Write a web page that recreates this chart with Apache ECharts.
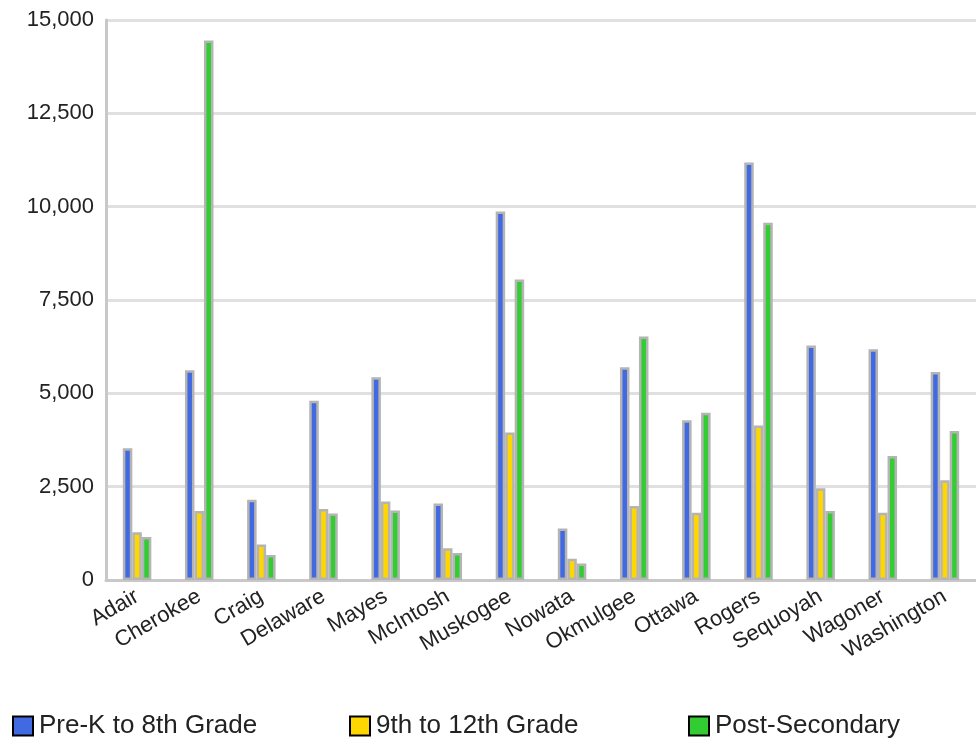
<!DOCTYPE html>
<html>
<head>
<meta charset="utf-8">
<script src="https://cdn.jsdelivr.net/npm/echarts@6/dist/echarts.min.js"></script>
<style>
  html, body { margin: 0; padding: 0; background: #ffffff; }
  #chart { width: 976px; height: 742px; }
</style>
</head>
<body>
<div id="chart"></div>
<script>
// Enrollment by county, three education levels
const counties = ['Adair', 'Cherokee', 'Craig', 'Delaware', 'Mayes', 'McIntosh', 'Muskogee',
  'Nowata', 'Okmulgee', 'Ottawa', 'Rogers', 'Sequoyah', 'Wagoner', 'Washington'];
const preKto8 = [3530, 5620, 2150, 4800, 5430, 2050, 9870, 1380, 5700, 4280, 11180, 6280, 6180, 5570];
const grade9to12 = [1280, 1850, 950, 1900, 2100, 850, 3950, 570, 1980, 1800, 4140, 2460, 1800, 2670];
const postSecondary = [1150, 14450, 670, 1780, 1860, 720, 8050, 440, 6520, 4480, 9570, 1850, 3320, 3990];
const seriesNames = ['Pre-K to 8th Grade', '9th to 12th Grade', 'Post-Secondary'];
const yTicks = { min: 0, max: 15000, step: 2500 };

const colors = ['#4169E1', '#FFD700', '#32CD32'];
const font = '"Liberation Sans", Arial, sans-serif';
const chart = echarts.init(document.getElementById('chart'), null, { renderer: 'canvas' });

function barSeries(name, data, color) {
  return {
    name: name,
    type: 'bar',
    data: data,
    barWidth: 9.5,
    barGap: '0%',
    itemStyle: { color: color, borderColor: '#b4b4b4', borderWidth: 2.5 },
    emphasis: { disabled: true }
  };
}

// one legend per series so each entry sits in its own column
function legendAt(left, name) {
  return {
    left: left,
    top: 713,
    padding: 0,
    orient: 'horizontal',
    data: [name],
    icon: 'rect',
    itemWidth: 20,
    itemHeight: 19,
    itemStyle: { borderColor: '#000000', borderWidth: 2 },
    textStyle: { fontFamily: font, fontSize: 26, color: '#222222', padding: [0, 0, 0, 1] },
    selectedMode: false
  };
}

chart.setOption({
  animation: false,
  color: colors,
  grid: { left: 106, right: -6, top: 20, bottom: 162 },
  legend: [
    legendAt(12, seriesNames[0]),
    legendAt(349, seriesNames[1]),
    legendAt(688, seriesNames[2])
  ],
  xAxis: {
    type: 'category',
    data: counties,
    boundaryGap: true,
    axisLine: { show: true, lineStyle: { color: '#c8c8c8', width: 3 } },
    axisTick: { show: false },
    axisLabel: {
      rotate: 30,
      margin: 15,
      interval: 0,
      fontFamily: font,
      fontSize: 22,
      color: '#222222'
    }
  },
  yAxis: {
    type: 'value',
    min: yTicks.min,
    max: yTicks.max,
    interval: yTicks.step,
    axisLine: { show: true, lineStyle: { color: '#c8c8c8', width: 3 } },
    axisTick: { show: false },
    splitLine: { show: true, lineStyle: { color: '#e0e0e0', width: 3 } },
    axisLabel: {
      margin: 12,
      fontFamily: font,
      fontSize: 22,
      color: '#222222',
      formatter: v => v.toLocaleString('en-US')
    }
  },
  series: [
    barSeries(seriesNames[0], preKto8, colors[0]),
    barSeries(seriesNames[1], grade9to12, colors[1]),
    barSeries(seriesNames[2], postSecondary, colors[2])
  ]
});
</script>
</body>
</html>
